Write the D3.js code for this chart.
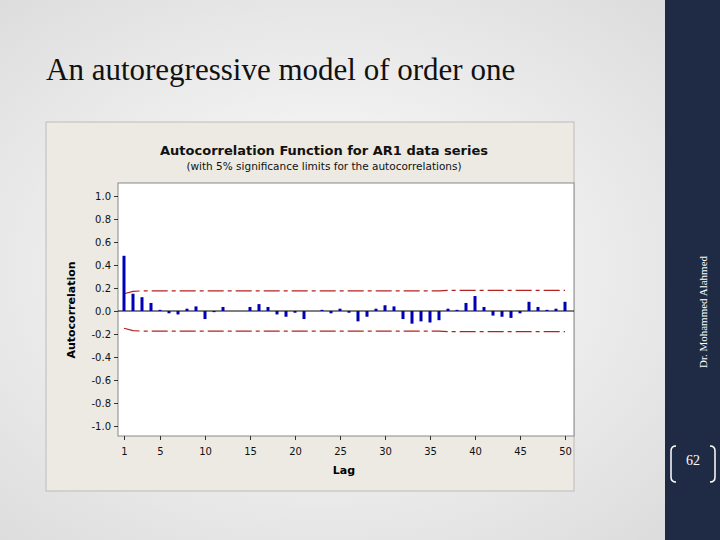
<!DOCTYPE html>
<html><head><meta charset="utf-8">
<script src="https://cdn.jsdelivr.net/npm/d3@7"></script>
<style>body{margin:0;}svg{display:block;}</style></head>
<body><svg id="c" width="720" height="540"></svg>
<script>
const lags = d3.range(1, 51);
const acf = [0.48,0.15,0.12,0.07,0.01,-0.02,-0.03,0.02,0.04,-0.07,-0.01,0.035,0.0,0.0,0.035,0.06,0.035,-0.03,-0.05,-0.015,-0.07,0.0,0.01,-0.02,0.02,-0.015,-0.09,-0.05,0.02,0.05,0.04,-0.07,-0.11,-0.09,-0.1,-0.08,0.02,0.01,0.07,0.13,0.035,-0.04,-0.05,-0.06,-0.02,0.08,0.035,0.01,0.02,0.08];
const limits = [0.15,0.17,0.175,0.175,0.175,0.175,0.175,0.175,0.175,0.175,0.175,0.175,0.175,0.175,0.175,0.175,0.175,0.175,0.175,0.175,0.175,0.175,0.175,0.175,0.175,0.175,0.175,0.175,0.175,0.175,0.175,0.175,0.175,0.175,0.175,0.175,0.18,0.18,0.18,0.18,0.18,0.18,0.18,0.18,0.18,0.18,0.18,0.18,0.18,0.18];
const yTicks = [1.0,0.8,0.6,0.4,0.2,0.0,-0.2,-0.4,-0.6,-0.8,-1.0];
const yTickLabels = ["1.0","0.8","0.6","0.4","0.2","0.0","-0.2","-0.4","-0.6","-0.8","-1.0"];
const xTicks = [1,5,10,15,20,25,30,35,40,45,50];

const svg = d3.select("#c");
const defs = svg.append("defs");
const g = defs.append("radialGradient").attr("id","bg").attr("cx","45%").attr("cy","50%").attr("r","75%");
g.append("stop").attr("offset","0%").attr("stop-color","#ffffff");
g.append("stop").attr("offset","100%").attr("stop-color","#d9d9d9");
svg.append("rect").attr("width",720).attr("height",540).attr("fill","url(#bg)");
svg.append("rect").attr("x",665).attr("width",55).attr("height",540).attr("fill","#1f2a44");
svg.append("text").attr("transform","translate(707,312) rotate(-90)").attr("text-anchor","middle")
  .attr("font-family","Liberation Serif").attr("font-size",11).attr("fill","#fff").text("Dr. Mohammed Alahmed");
svg.append("path").attr("d","M676,446 q-5,0 -5,5 v26 q0,5 5,5 M710,446 q5,0 5,5 v26 q0,5 -5,5").attr("stroke","#fff").attr("fill","none").attr("stroke-width",1.5);
svg.append("text").attr("x",693).attr("y",465).attr("text-anchor","middle").attr("font-family","Liberation Serif").attr("font-size",14).attr("fill","#fff").text("62");
svg.append("text").attr("x",46).attr("y",80).attr("font-family","Liberation Serif").attr("font-size",31).attr("fill","#111").text("An autoregressive model of order one");

svg.append("rect").attr("x",46).attr("y",122).attr("width",528).attr("height",369).attr("fill","#eceae2").attr("stroke","#bbb");
const x = d3.scaleLinear().domain([1,50]).range([124,565]);
const y = d3.scaleLinear().domain([-1,1]).range([426,196]);
svg.append("rect").attr("x",118).attr("y",183).attr("width",456).attr("height",253).attr("fill","#fff").attr("stroke","#888");
svg.append("text").attr("x",324).attr("y",155).attr("text-anchor","middle").attr("font-family","DejaVu Sans").attr("font-weight","bold").attr("font-size",13).attr("fill","#111").text("Autocorrelation Function for AR1 data series");
svg.append("text").attr("x",324).attr("y",170).attr("text-anchor","middle").attr("font-family","DejaVu Sans").attr("font-size",10.5).attr("fill","#111").text("(with 5% significance limits for the autocorrelations)");

const ya = svg.append("g").attr("transform","translate(118,0)").call(d3.axisLeft(y).tickValues(yTicks).tickFormat((d,i)=>yTickLabels[i]).tickSize(4));
const xa = svg.append("g").attr("transform","translate(0,436)").call(d3.axisBottom(x).tickValues(xTicks).tickSize(4));
[ya,xa].forEach(a=>{a.select(".domain").remove();a.selectAll("text").attr("font-family","DejaVu Sans").attr("font-size",10).attr("fill","#111");a.selectAll("line").attr("stroke","#333");});
xa.selectAll("text").attr("dy","1.2em");
svg.append("text").attr("x",344).attr("y",474).attr("text-anchor","middle").attr("font-family","DejaVu Sans").attr("font-weight","bold").attr("font-size",11).text("Lag");
svg.append("text").attr("transform","translate(75,310) rotate(-90)").attr("text-anchor","middle").attr("font-family","DejaVu Sans").attr("font-weight","bold").attr("font-size",11).text("Autocorrelation");

svg.append("line").attr("x1",118).attr("x2",574).attr("y1",y(0)).attr("y2",y(0)).attr("stroke","#000").attr("stroke-width",1);
const line = d3.line().x((d,i)=>x(lags[i])).y(d=>y(d));
svg.append("path").attr("d",line(limits)).attr("fill","none").attr("stroke","#b22222").attr("stroke-width",1.2).attr("stroke-dasharray","16,4,4,4");
svg.append("path").attr("d",line(limits.map(v=>-v))).attr("fill","none").attr("stroke","#b22222").attr("stroke-width",1.2).attr("stroke-dasharray","16,4,4,4");
svg.selectAll(".bar").data(acf).enter().append("rect")
  .attr("x",(d,i)=>x(lags[i])-1.5).attr("width",3)
  .attr("y",d=>y(Math.max(0,d))).attr("height",d=>Math.abs(y(d)-y(0)))
  .attr("fill","#0000b4");
</script></body></html>
